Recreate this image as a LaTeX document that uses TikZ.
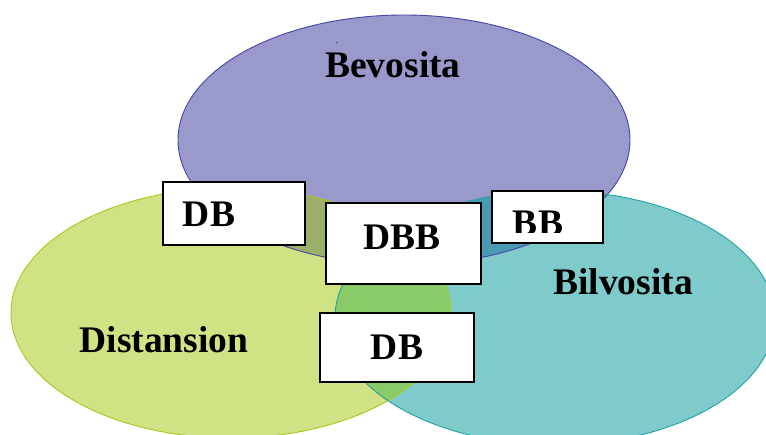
\documentclass[tikz,border=0pt]{standalone}
\usepackage{fontspec}
\setmainfont{Liberation Serif}
\definecolor{pfill}{HTML}{9A99CB}
\definecolor{gfill}{HTML}{CFE384}
\definecolor{tfill}{HTML}{7FCBCB}
\definecolor{pgfill}{HTML}{9BAF6A}
\definecolor{ptfill}{HTML}{4B9AB3}
\definecolor{gtfill}{HTML}{8ACB69}
\definecolor{pgtfill}{HTML}{6A9F7A}
\definecolor{pline}{HTML}{4646A5}
\definecolor{gline}{HTML}{A8C81C}
\definecolor{tline}{HTML}{1FA3A3}
\tikzset{
  lbl/.style={font=\fontsize{37.5}{42}\selectfont\bfseries, anchor=base, inner sep=0pt},
  boxst/.style={draw=black, fill=white, line width=1.5pt, inner sep=0pt, rectangle},
}
\def\Pell{(404,140) ellipse [x radius=226pt, y radius=125pt]}
\def\Gell{(231,313) ellipse [x radius=220pt, y radius=125pt]}
\def\Tell{(555,318) ellipse [x radius=220pt, y radius=127pt]}
\begin{document}
\begin{tikzpicture}[x=1pt,y=-1pt]
\useasboundingbox (0,0) rectangle (766,435);
\begin{scope}
\clip (0,0) rectangle (766,435);
% base fills
\fill[pfill] \Pell;
\fill[gfill] \Gell;
\fill[tfill] \Tell;
% overlaps
\begin{scope}
  \clip \Pell;
  \fill[pgfill] \Gell;
  \fill[ptfill] \Tell;
\end{scope}
\begin{scope}
  \clip \Gell;
  \fill[gtfill] \Tell;
  \begin{scope}
    \clip \Pell;
    \fill[pgtfill] \Tell;
  \end{scope}
\end{scope}
% outlines
\draw[pline, line width=0.9pt] \Pell;
\draw[gline, line width=0.9pt] \Gell;
\draw[tline, line width=0.9pt] \Tell;
\end{scope}
% circle labels
\node[lbl] (bev) at (393,78) {Bevosita};
\node[font=\fontsize{9}{10}\selectfont, anchor=base, inner sep=0pt] (dot) at (337,44) {.};
\node[lbl] (dist) at (164,353) {Distansion};
\node[lbl] (bil) at (623,295) {Bilvosita};
% boxes
\node[boxst, minimum width=142pt, minimum height=63pt] (b1) at (234,213.5) {};
\node[lbl] (t1) at (209,227) {DB};
\node[boxst, minimum width=155pt, minimum height=81pt] (b2) at (403.5,243.5) {};
\node[lbl] (t2) at (402,250) {DBB};
\node[boxst, minimum width=111pt, minimum height=52pt] (b3) at (547.5,217) {};
\begin{scope}
  \clip (492,191) rectangle (603,233);
  \node[lbl] (t3) at (538,236) {BB};
\end{scope}
\node[boxst, minimum width=154pt, minimum height=69pt] (b4) at (397,347.5) {};
\node[lbl] (t4) at (397,360) {DB};
\end{tikzpicture}
\end{document}
